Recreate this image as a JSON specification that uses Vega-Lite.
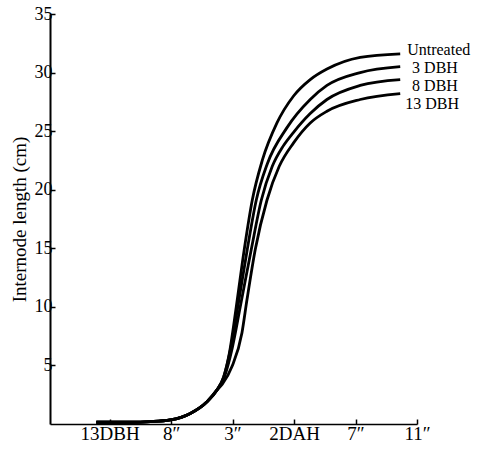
{
  "$schema": "https://vega.github.io/schema/vega-lite/v6.json",
  "width": 367,
  "height": 410,
  "autosize": "none",
  "padding": {"left": 50, "top": 14, "right": 80, "bottom": 27},
  "config": {
    "view": {"stroke": null},
    "font": "Liberation Serif",
    "axis": {"labelFont": "Liberation Serif", "titleFont": "Liberation Serif", "labelColor": "black", "titleColor": "black", "domainColor": "black", "tickColor": "black", "grid": false}
  },
  "datasets": {
    "curves": [
      {"series": "Untreated", "x": 0.784, "y": 0.15},
      {"series": "Untreated", "x": 1.337, "y": 0.15},
      {"series": "Untreated", "x": 1.662, "y": 0.2},
      {"series": "Untreated", "x": 1.987, "y": 0.35},
      {"series": "Untreated", "x": 2.312, "y": 0.9},
      {"series": "Untreated", "x": 2.584, "y": 1.9},
      {"series": "Untreated", "x": 2.746, "y": 2.9},
      {"series": "Untreated", "x": 2.854, "y": 4.0},
      {"series": "Untreated", "x": 2.946, "y": 6.0},
      {"series": "Untreated", "x": 3.06, "y": 10.0},
      {"series": "Untreated", "x": 3.19, "y": 14.9},
      {"series": "Untreated", "x": 3.32, "y": 19.1},
      {"series": "Untreated", "x": 3.483, "y": 22.5},
      {"series": "Untreated", "x": 3.722, "y": 25.7},
      {"series": "Untreated", "x": 3.992, "y": 28.0},
      {"series": "Untreated", "x": 4.263, "y": 29.4},
      {"series": "Untreated", "x": 4.535, "y": 30.3},
      {"series": "Untreated", "x": 5.076, "y": 31.3},
      {"series": "Untreated", "x": 5.727, "y": 31.6},
      {"series": "3 DBH", "x": 0.784, "y": 0.15},
      {"series": "3 DBH", "x": 1.337, "y": 0.15},
      {"series": "3 DBH", "x": 1.662, "y": 0.2},
      {"series": "3 DBH", "x": 1.987, "y": 0.35},
      {"series": "3 DBH", "x": 2.312, "y": 0.9},
      {"series": "3 DBH", "x": 2.584, "y": 1.9},
      {"series": "3 DBH", "x": 2.746, "y": 2.9},
      {"series": "3 DBH", "x": 2.854, "y": 4.0},
      {"series": "3 DBH", "x": 2.971, "y": 6.5},
      {"series": "3 DBH", "x": 3.085, "y": 10.0},
      {"series": "3 DBH", "x": 3.239, "y": 14.9},
      {"series": "3 DBH", "x": 3.385, "y": 19.1},
      {"series": "3 DBH", "x": 3.564, "y": 22.2},
      {"series": "3 DBH", "x": 3.885, "y": 25.3},
      {"series": "3 DBH", "x": 4.263, "y": 27.7},
      {"series": "3 DBH", "x": 4.535, "y": 28.9},
      {"series": "3 DBH", "x": 5.076, "y": 30.0},
      {"series": "3 DBH", "x": 5.727, "y": 30.5},
      {"series": "8 DBH", "x": 0.784, "y": 0.15},
      {"series": "8 DBH", "x": 1.337, "y": 0.15},
      {"series": "8 DBH", "x": 1.662, "y": 0.2},
      {"series": "8 DBH", "x": 1.987, "y": 0.35},
      {"series": "8 DBH", "x": 2.312, "y": 0.9},
      {"series": "8 DBH", "x": 2.584, "y": 1.9},
      {"series": "8 DBH", "x": 2.746, "y": 2.9},
      {"series": "8 DBH", "x": 2.865, "y": 4.0},
      {"series": "8 DBH", "x": 2.995, "y": 6.5},
      {"series": "8 DBH", "x": 3.125, "y": 10.0},
      {"series": "8 DBH", "x": 3.304, "y": 14.9},
      {"series": "8 DBH", "x": 3.467, "y": 19.1},
      {"series": "8 DBH", "x": 3.646, "y": 22.0},
      {"series": "8 DBH", "x": 3.82, "y": 23.7},
      {"series": "8 DBH", "x": 3.992, "y": 24.9},
      {"series": "8 DBH", "x": 4.263, "y": 26.5},
      {"series": "8 DBH", "x": 4.535, "y": 27.7},
      {"series": "8 DBH", "x": 5.076, "y": 28.9},
      {"series": "8 DBH", "x": 5.727, "y": 29.4},
      {"series": "13 DBH", "x": 0.784, "y": 0.15},
      {"series": "13 DBH", "x": 1.337, "y": 0.15},
      {"series": "13 DBH", "x": 1.662, "y": 0.2},
      {"series": "13 DBH", "x": 1.987, "y": 0.35},
      {"series": "13 DBH", "x": 2.312, "y": 0.9},
      {"series": "13 DBH", "x": 2.584, "y": 1.9},
      {"series": "13 DBH", "x": 2.746, "y": 2.9},
      {"series": "13 DBH", "x": 2.833, "y": 3.4},
      {"series": "13 DBH", "x": 2.99, "y": 4.9},
      {"series": "13 DBH", "x": 3.153, "y": 7.8},
      {"series": "13 DBH", "x": 3.234, "y": 10.6},
      {"series": "13 DBH", "x": 3.369, "y": 14.9},
      {"series": "13 DBH", "x": 3.559, "y": 19.1},
      {"series": "13 DBH", "x": 3.759, "y": 22.0},
      {"series": "13 DBH", "x": 3.992, "y": 24.0},
      {"series": "13 DBH", "x": 4.263, "y": 25.7},
      {"series": "13 DBH", "x": 4.535, "y": 26.7},
      {"series": "13 DBH", "x": 5.076, "y": 27.7},
      {"series": "13 DBH", "x": 5.727, "y": 28.2}
    ],
    "labels": [
      {"label": "Untreated", "x": 5.84, "y": 31.95},
      {"label": "3  DBH", "x": 5.92, "y": 30.4},
      {"label": "8  DBH", "x": 5.92, "y": 28.85},
      {"label": "13  DBH", "x": 5.81, "y": 27.3}
    ]
  },
  "layer": [
    {
      "data": {"name": "curves"},
      "mark": {"type": "line", "interpolate": "monotone", "color": "black", "strokeWidth": 2.8, "clip": false},
      "encoding": {
        "x": {
          "field": "x", "type": "quantitative",
          "scale": {"domain": [0.03, 6], "nice": false, "zero": false},
          "axis": {
            "title": null, "values": [1, 2, 3, 4, 5, 6],
            "labelExpr": "['', '13DBH', '8″', '3″', '2DAH', '7″', '11″'][datum.value]",
            "labelFontSize": 19, "tickSize": -5, "tickWidth": 1.5, "domainWidth": 1.5, "labelPadding": 5,
            "labelFlush": false
          }
        },
        "y": {
          "field": "y", "type": "quantitative",
          "scale": {"domain": [0, 35], "nice": false},
          "axis": {
            "title": "Internode  length (cm)", "values": [5, 10, 15, 20, 25, 30, 35],
            "labelFontSize": 18, "titleFontSize": 19, "titleFontWeight": "normal",
            "tickSize": -5, "tickWidth": 1.5, "domainWidth": 2, "labelPadding": 3, "titlePadding": 5
          }
        },
        "detail": {"field": "series"}
      }
    },
    {
      "data": {"name": "labels"},
      "mark": {"type": "text", "align": "left", "baseline": "middle", "fontSize": 16, "font": "Liberation Serif", "color": "black"},
      "encoding": {
        "x": {"field": "x", "type": "quantitative"},
        "y": {"field": "y", "type": "quantitative"},
        "text": {"field": "label"}
      }
    }
  ]
}
